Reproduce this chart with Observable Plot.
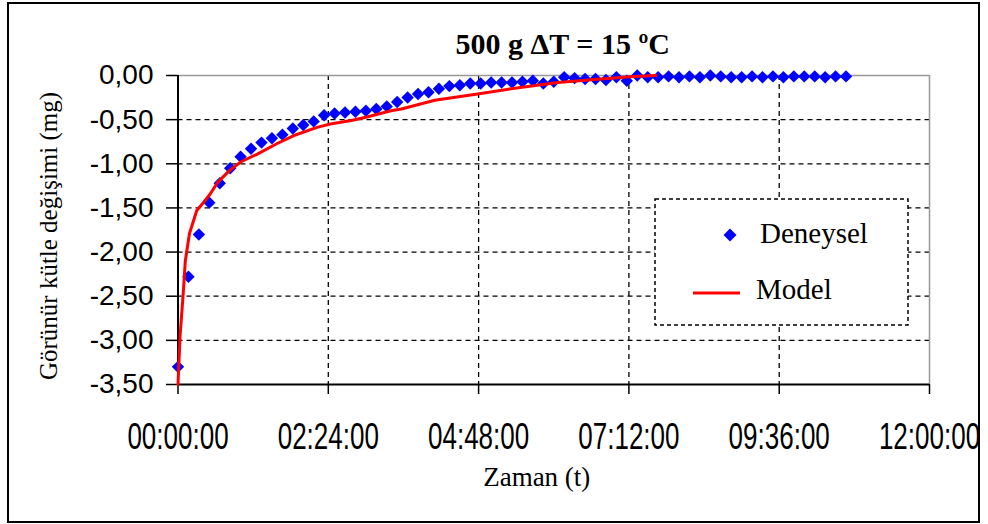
<!DOCTYPE html>
<html>
<head>
<meta charset="utf-8">
<script src="https://cdn.jsdelivr.net/npm/d3@7"></script>
<script src="https://cdn.jsdelivr.net/npm/@observablehq/plot@0.6"></script>
<style>
  body { margin: 0; background: #fff; }
  #wrap { position: relative; width: 988px; height: 524px; overflow: hidden; background: #fff; }
  #border { position: absolute; left: 7px; top: 2px; width: 973px; height: 521px; border: 2px solid #000; box-sizing: border-box; pointer-events: none; }
  #legend { position: absolute; left: 650px; top: 194px; }
</style>
</head>
<body>
<div id="wrap">
  <div id="chart"></div>
  <svg id="legend" width="265" height="140"></svg>
  <div id="border"></div>
</div>
<script>
// ---- data ----
const titleText = "500 g ΔT = 15 ºC";
const xLabelText = "Zaman (t)";
const yLabelText = "Görünür kütle değişimi (mg)";
const seriesNames = ["Deneysel", "Model"];

// Deneysel: time in minutes, apparent mass change (mg)
const expTime = [0,10,20,30,40,50,60,70,80,90,100,110,120,130,140,150,160,170,180,190,
  200,210,220,230,240,250,260,270,280,290,300,310,320,330,340,350,360,370,380,390,
  400,410,420,430,440,450,460,470,480,490,500,510,520,530,540,550,560,570,580,590,
  600,610,620,630,640];
const expValue = [-3.30,-2.28,-1.80,-1.44,-1.22,-1.05,-0.92,-0.83,-0.76,-0.71,
  -0.67,-0.60,-0.56,-0.52,-0.45,-0.43,-0.42,-0.41,-0.40,-0.38,
  -0.35,-0.30,-0.25,-0.21,-0.19,-0.15,-0.12,-0.11,-0.09,-0.09,
  -0.08,-0.08,-0.08,-0.07,-0.06,-0.09,-0.07,-0.02,-0.03,-0.04,
  -0.04,-0.05,-0.02,-0.06,0.00,-0.02,-0.02,-0.01,-0.02,-0.01,
  -0.02,0.00,-0.01,-0.02,-0.02,-0.01,-0.02,-0.01,-0.02,-0.01,
  -0.01,-0.01,-0.02,-0.01,-0.01];

// Model curve: time in minutes, value (mg)
const modelTime = [0,2,5,7,11,18,25,31,38,49,60,76,95,111,134,146,166,181,204,214,246,287,319,364,405,437,458];
const modelValue = [-3.50,-2.95,-2.47,-2.10,-1.79,-1.53,-1.43,-1.34,-1.21,-1.08,-0.98,-0.89,-0.77,-0.68,-0.585,-0.55,-0.51,-0.47,-0.40,-0.38,-0.28,-0.21,-0.15,-0.08,-0.04,-0.01,0.00];

// axes
const xDomain = [0, 720];
const xTickValues = [0, 144, 288, 432, 576, 720];
const xTickLabels = ["00:00:00", "02:24:00", "04:48:00", "07:12:00", "09:36:00", "12:00:00"];
const yDomain = [-3.5, 0];
const yTickValues = [0, -0.5, -1.0, -1.5, -2.0, -2.5, -3.0, -3.5];

// ---- build ----
const exp = expTime.map((t, i) => ({t, v: expValue[i]}));
const model = modelTime.map((t, i) => ({t, v: modelValue[i]}));
const fmtY = v => v.toFixed(2).replace(".", ",");
const fmtX = d => xTickLabels[xTickValues.indexOf(d)];

const gridStyle = {stroke: "#000", strokeOpacity: 1, strokeWidth: 1.3, strokeDasharray: "5,4"};

const chart = Plot.plot({
  width: 988,
  height: 524,
  marginLeft: 177.5,
  marginRight: 59,
  marginTop: 75,
  marginBottom: 140,
  style: {fontFamily: "Liberation Serif", background: "transparent", color: "#000"},
  x: {domain: xDomain},
  y: {domain: yDomain},
  marks: [
    Plot.gridY(yTickValues.filter(v => v !== 0 && v !== -3.5), gridStyle),
    Plot.gridX(xTickValues.filter(v => v !== 0 && v !== 720), gridStyle),
    Plot.ruleY([yDomain[1]], {stroke: "#999", strokeWidth: 1.5}),
    Plot.ruleX([xDomain[1]], {stroke: "#999", strokeWidth: 1.5}),
    Plot.ruleX([xDomain[0]], {stroke: "#000", strokeWidth: 2}),
    Plot.ruleY([yDomain[0]], {stroke: "#000", strokeWidth: 2}),
    Plot.axisY(yTickValues, {tickSize: 11.5, tickPadding: 13, tickFormat: fmtY, label: null,
      fontSize: 28, fontFamily: "Liberation Sans", strokeWidth: 1.5}),
    Plot.axisX(xTickValues, {tickSize: 10, tickPadding: 29, tickFormat: fmtX, label: null,
      fontSize: 26, fontFamily: "Liberation Sans", strokeWidth: 1.5}),
    Plot.dot(exp, {x: "t", y: "v", symbol: "diamond2", r: 5.6, fill: "#0000ff", stroke: null}),
    Plot.line(model, {x: "t", y: "v", stroke: "#ff0000", strokeWidth: 3}),
    Plot.text([titleText], {text: d => d, frameAnchor: "top", textAnchor: "middle", lineAnchor: "middle",
      dy: -31.6, dx: 9, fontSize: 30, fontWeight: "bold", fontFamily: "Liberation Serif"}),
    Plot.text([yLabelText], {text: d => d, frameAnchor: "left", textAnchor: "middle", lineAnchor: "middle",
      rotate: -90, dx: -129, dy: 6, fontSize: 25, fontFamily: "Liberation Serif"}),
    Plot.text([xLabelText], {text: d => d, frameAnchor: "bottom", textAnchor: "middle", lineAnchor: "middle",
      dx: -17, dy: 92.4, fontSize: 27, fontFamily: "Liberation Serif"})
  ]
});
document.getElementById("chart").appendChild(chart);

// stretch the time tick labels vertically like the original rendering
d3.select(chart).selectAll("text").each(function() {
  const s = this.textContent;
  if (!/^\d\d:\d\d:\d\d$/.test(s)) return;
  const t = this.getAttribute("transform");
  if (t) this.setAttribute("transform", t + " scale(1,1.4)");
  else {
    const x = +this.getAttribute("x") || 0, y = +this.getAttribute("y") || 0;
    this.setAttribute("transform", `translate(${x},${y}) scale(1,1.4) translate(${-x},${-y})`);
  }
});

// legend
const lg = d3.select("#legend");
lg.append("rect").attr("x", 5).attr("y", 5).attr("width", 253).attr("height", 126)
  .attr("fill", "#fff").attr("stroke", "#000").attr("stroke-width", 1.5).attr("stroke-dasharray", "4,3");
lg.append("path").attr("d", d3.symbol(d3.symbolDiamond2, 108)()).attr("transform", "translate(80,41)").attr("fill", "#0000ff");
lg.append("text").attr("x", 110).attr("y", 49).attr("font-family", "Liberation Serif").attr("font-size", 29).text(seriesNames[0]);
lg.append("line").attr("x1", 43).attr("x2", 90).attr("y1", 99).attr("y2", 99).attr("stroke", "#ff0000").attr("stroke-width", 3);
lg.append("text").attr("x", 106).attr("y", 105).attr("font-family", "Liberation Serif").attr("font-size", 29).text(seriesNames[1]);
</script>
</body>
</html>
